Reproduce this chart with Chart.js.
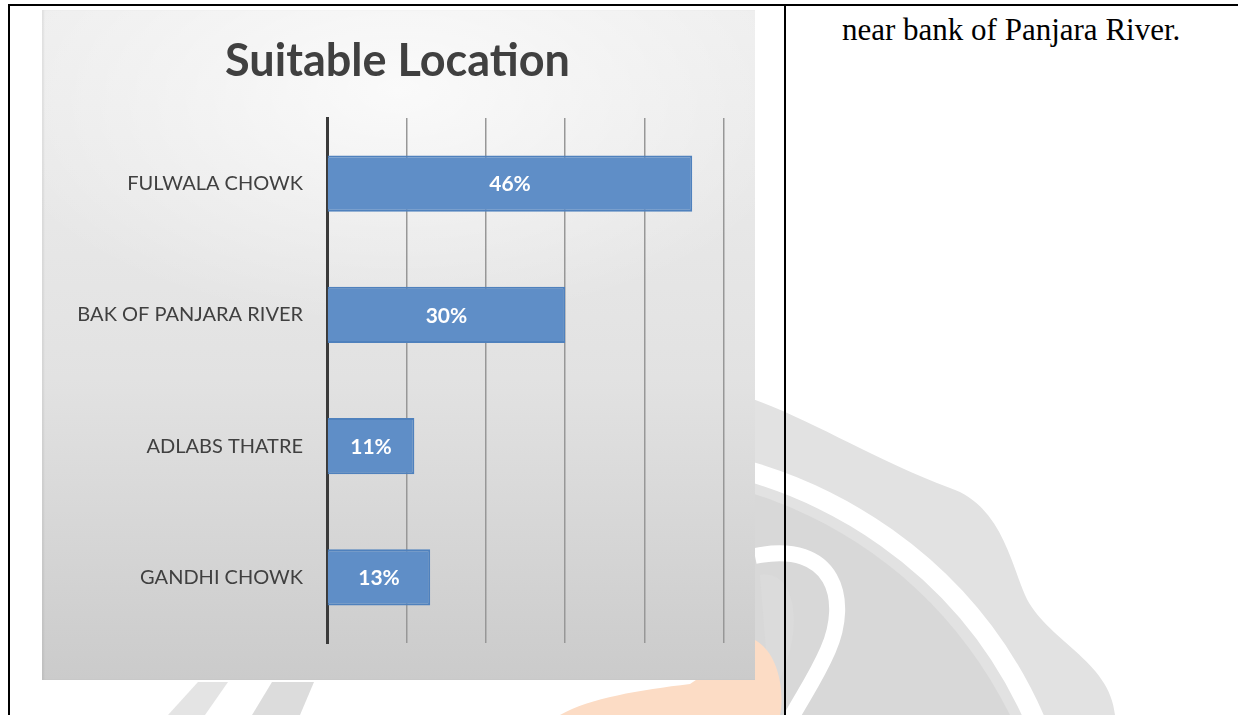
<!DOCTYPE html>
<html>
<head>
<meta charset="utf-8">
<script src="https://cdn.jsdelivr.net/npm/chart.js@4.4.1/dist/chart.umd.min.js"></script>
<style>
  html, body { margin: 0; padding: 0; background: #fff; }
  body { width: 1238px; height: 715px; position: relative; overflow: hidden; }
  .line { position: absolute; background: #000; }
  #watermark { position: absolute; left: 0; top: 0; }
  #chart-box {
    position: absolute; left: 42px; top: 10px; width: 713px; height: 670px;
    background:
      radial-gradient(ellipse 60% 35% at 50% 12%, rgba(255,255,255,0.75), rgba(255,255,255,0) 100%),
      linear-gradient(to bottom, #eeeeee 0%, #e2e2e2 55%, #cbcbcb 100%);
    box-shadow: inset 2px 0 2px rgba(0,0,0,0.06);
  }
  #note {
    position: absolute; left: 842px; top: 12px;
    font-family: "Liberation Serif", "Times New Roman", serif; font-size: 31px; color: #000;
    white-space: nowrap;
  }
</style>
</head>
<body>
<!-- faded logo in the page background -->
<svg id="watermark" width="1238" height="715">
  <path d="M 700 385 C 780 398 850 450 950 488 C 1000 505 1010 560 1025 595 C 1045 640 1110 660 1115 715 L 700 715 Z" fill="#e2e2e2"/>
  <path d="M 700 480 C 830 505 945 585 1010 715 L 700 715 Z" fill="#d8d8d8"/>
  <path d="M 700 460 C 820 480 965 560 1035 720" stroke="#fff" stroke-width="20" fill="none"/>
  <path d="M 755 556 C 835 540 850 600 828 650 C 815 680 800 700 790 720" stroke="#fff" stroke-width="16" fill="none"/>
  <path d="M 760 575 C 790 570 800 610 790 650 C 785 670 775 690 770 700 Z" fill="#dbdbdb"/>
  <path d="M 560 715 C 590 698 640 690 690 684 L 755 640 C 782 655 784 700 780 715 Z" fill="#fcdcc5"/>
  <path d="M 168 715 L 198 682 L 228 682 L 205 715 Z" fill="#e4e4e4"/>
  <path d="M 252 715 L 272 682 L 314 682 L 300 715 Z" fill="#dcdcdc"/>
</svg>

<div class="line" style="left:8px; top:4px; width:1230px; height:2px;"></div>
<div class="line" style="left:8px; top:4px; width:2px; height:711px;"></div>
<div class="line" style="left:784px; top:4px; width:2px; height:711px;"></div>

<div id="chart-box"><canvas id="location-chart" width="713" height="670"></canvas></div>
<div id="note">near bank of Panjara River.</div>

<script>
// data
const locations = ['FULWALA CHOWK', 'BAK OF PANJARA RIVER', 'ADLABS THATRE', 'GANDHI CHOWK'];
const shares = [46, 30, 11, 13];
const axisMax = 50;
const axisStep = 10;

// white % labels in the middle of each bar
const barLabels = {
  id: 'barLabels',
  afterDatasetsDraw(chart) {
    const ctx = chart.ctx;
    const meta = chart.getDatasetMeta(0);
    ctx.save();
    ctx.fillStyle = '#ffffff';
    ctx.font = 'bold 21px Lato, sans-serif';
    ctx.textAlign = 'center';
    ctx.textBaseline = 'middle';
    meta.data.forEach((bar, i) => {
      ctx.fillText(shares[i] + '%', (bar.x + bar.base) / 2, bar.y + 1);
    });
    ctx.restore();
  }
};

const ctx = document.getElementById('location-chart').getContext('2d');
const locationChart = new Chart(ctx, {
  type: 'bar',
  data: {
    labels: locations,
    datasets: [{
      label: 'Suitable Location',
      data: shares,
      backgroundColor: '#5f8ec7',
      borderColor: '#4f81bd',
      borderWidth: 2,
      barPercentage: 0.43,
      categoryPercentage: 1
    }]
  },
  options: {
    indexAxis: 'y',
    responsive: false,
    animation: false,
    // nearly the same padding left and right so the title sits in the middle
    layout: { padding: { left: 29, right: 31, bottom: 37, top: 0 } },
    plugins: {
      legend: { display: false },
      tooltip: { enabled: false },
      title: {
        display: true,
        text: 'Suitable Location',
        color: '#404040',
        font: { family: 'Lato', size: 45, weight: 'bold', lineHeight: 1.2 },
        padding: { top: 24, bottom: 30 }
      }
    },
    scales: {
      x: {
        min: 0,
        max: axisMax,
        ticks: { display: false, stepSize: axisStep },
        grid: { color: '#979797', lineWidth: 1.5, drawTicks: false },
        border: { display: false },
        afterFit: s => { s.height = 0; }
      },
      y: {
        ticks: {
          color: '#404040',
          font: { family: 'Lato', size: 20 },
          padding: 24
        },
        grid: { display: false, drawTicks: false },
        border: { color: '#3a3a3a', width: 3 },
        afterFit: s => { s.width = 256; }
      }
    }
  },
  plugins: [barLabels]
});
</script>
</body>
</html>
